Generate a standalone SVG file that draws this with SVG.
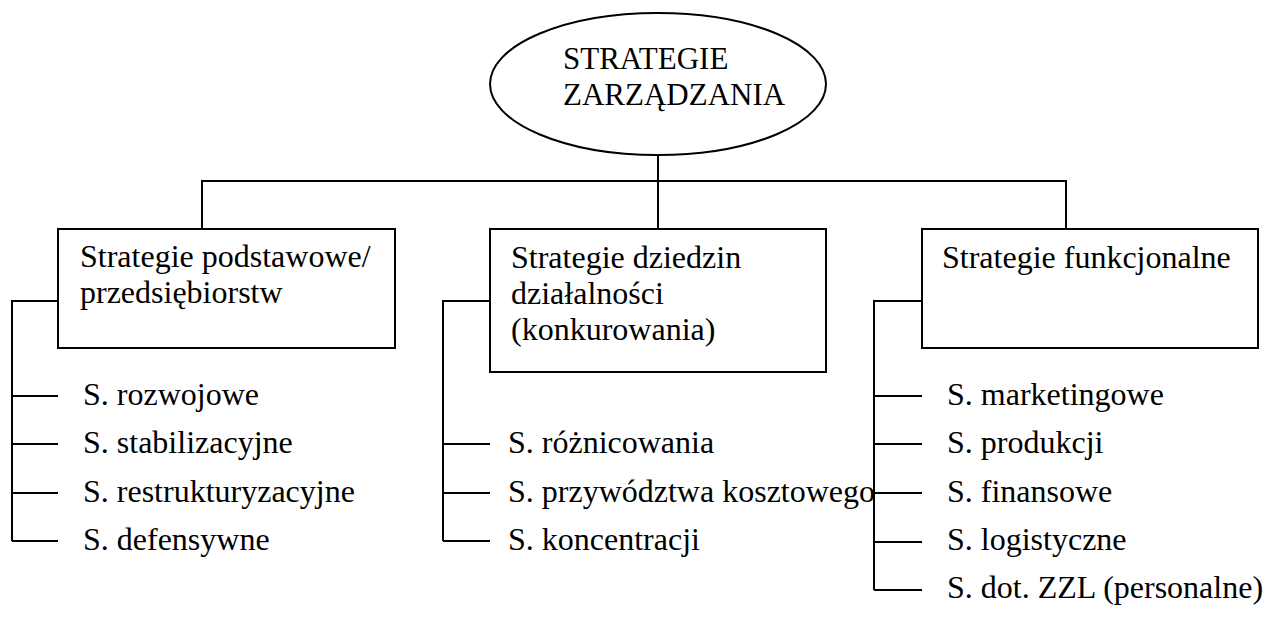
<svg xmlns="http://www.w3.org/2000/svg" width="1271" height="623" viewBox="0 0 1271 623">
<rect width="1271" height="623" fill="#fff"/>
<g id="connectors" fill="none" stroke="#000" stroke-width="2">
<path d="M202,229 V181 H1066 V229 M658,155 V229"/>
<path d="M58,301 H12 V541 M12,396 H58 M12,444 H58 M12,493 H58 M12,541 H58"/>
<path d="M490,301 H443 V541 M443,444 H490 M443,493 H490 M443,541 H490"/>
<path d="M922,301 H874 V590 M874,396 H922 M874,444 H922 M874,493 H922 M874,542 H922 M874,590 H922"/>
</g>
<g id="root">
<ellipse cx="658" cy="84" rx="168" ry="71" fill="#fff" stroke="#000" stroke-width="2"/>
<text x="563" y="69" font-family="Liberation Serif" font-size="31">STRATEGIE</text>
<text x="563" y="105" font-family="Liberation Serif" font-size="31">ZARZĄDZANIA</text>
</g>
<g id="podstawowe">
<rect x="58" y="229" width="337" height="119" fill="#fff" stroke="#000" stroke-width="2"/>
<text x="80" y="267" font-family="Liberation Serif" font-size="32">Strategie podstawowe/</text>
<text x="80" y="303" font-family="Liberation Serif" font-size="32">przedsiębiorstw</text>
</g>
<g id="dziedzin">
<rect x="490" y="229" width="336" height="143" fill="#fff" stroke="#000" stroke-width="2"/>
<text x="511" y="268" font-family="Liberation Serif" font-size="32">Strategie dziedzin</text>
<text x="511" y="304" font-family="Liberation Serif" font-size="32">działalności</text>
<text x="511" y="340" font-family="Liberation Serif" font-size="32">(konkurowania)</text>
</g>
<g id="funkcjonalne">
<rect x="922" y="229" width="336" height="119" fill="#fff" stroke="#000" stroke-width="2"/>
<text x="942" y="268" font-family="Liberation Serif" font-size="32">Strategie funkcjonalne</text>
</g>
<g id="items-podstawowe" font-family="Liberation Serif" font-size="32">
<text x="83" y="405">S. rozwojowe</text>
<text x="83" y="453">S. stabilizacyjne</text>
<text x="83" y="502">S. restrukturyzacyjne</text>
<text x="83" y="550">S. defensywne</text>
</g>
<g id="items-dziedzin" font-family="Liberation Serif" font-size="32">
<text x="508" y="453">S. różnicowania</text>
<text x="508" y="502">S. przywództwa kosztowego</text>
<text x="508" y="550">S. koncentracji</text>
</g>
<g id="items-funkcjonalne" font-family="Liberation Serif" font-size="32">
<text x="947" y="405">S. marketingowe</text>
<text x="947" y="453">S. produkcji</text>
<text x="947" y="502">S. finansowe</text>
<text x="947" y="550">S. logistyczne</text>
<text x="947" y="598">S. dot. ZZL (personalne)</text>
</g>
</svg>
